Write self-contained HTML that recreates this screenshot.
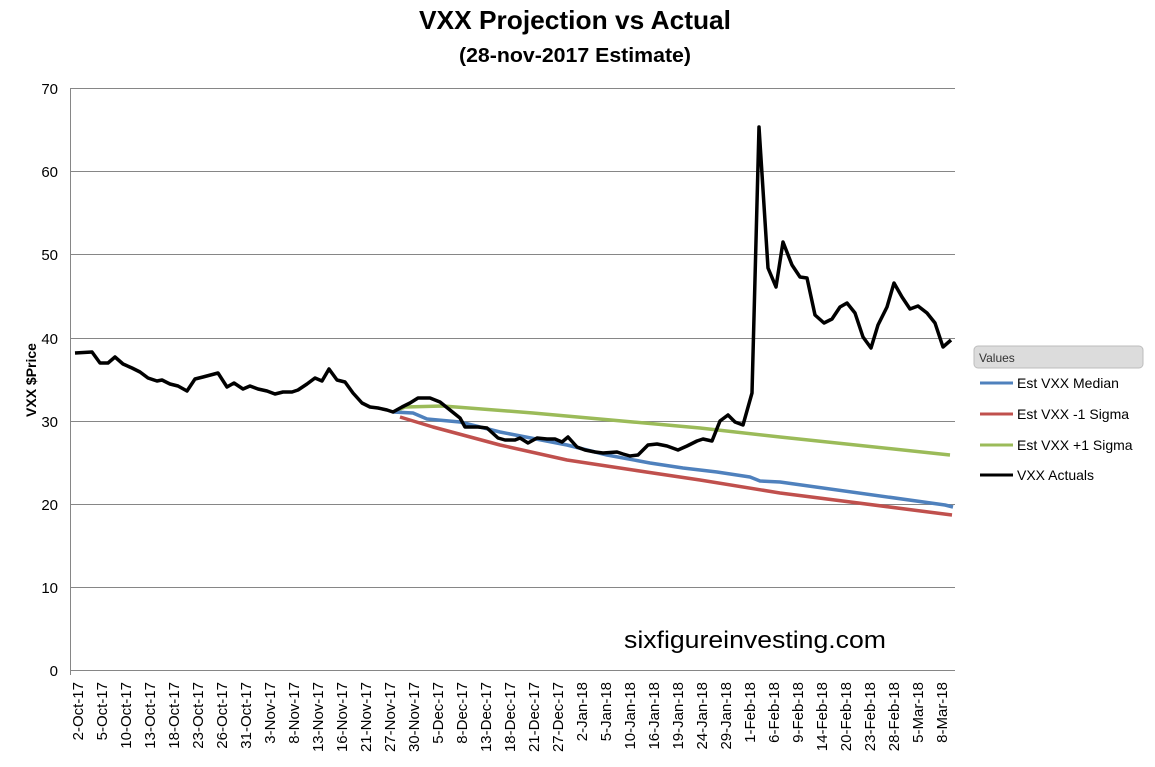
<!DOCTYPE html>
<html><head><meta charset="utf-8"><style>
body{margin:0;background:#fff;}
svg text{font-family:"Liberation Sans",sans-serif;}
</style></head><body>
<svg width="1155" height="762" xmlns="http://www.w3.org/2000/svg">
<rect width="1155" height="762" fill="#fff"/>
<text x="575" y="29" text-anchor="middle" font-size="26" font-weight="bold" fill="#000" textLength="312" lengthAdjust="spacingAndGlyphs">VXX Projection vs Actual</text>
<text x="575" y="62" text-anchor="middle" font-size="20" font-weight="bold" fill="#000" textLength="232" lengthAdjust="spacingAndGlyphs">(28-nov-2017 Estimate)</text>
<g stroke="#868686" stroke-width="1">
<line x1="70" y1="88.5" x2="955" y2="88.5"/>
<line x1="70" y1="171.5" x2="955" y2="171.5"/>
<line x1="70" y1="254.5" x2="955" y2="254.5"/>
<line x1="70" y1="338.5" x2="955" y2="338.5"/>
<line x1="70" y1="421.5" x2="955" y2="421.5"/>
<line x1="70" y1="504.5" x2="955" y2="504.5"/>
<line x1="70" y1="587.5" x2="955" y2="587.5"/>
<line x1="70" y1="670.5" x2="955" y2="670.5"/>
<line x1="70.5" y1="88" x2="70.5" y2="675"/>
</g>
<g font-size="15" text-anchor="end" fill="#000">
<text x="58" y="94">70</text><text x="58" y="177">60</text><text x="58" y="260">50</text><text x="58" y="344">40</text><text x="58" y="427">30</text><text x="58" y="510">20</text><text x="58" y="593">10</text><text x="58" y="676">0</text>
</g>
<text transform="translate(36,380) rotate(-90)" text-anchor="middle" font-size="14" font-weight="bold">VXX $Price</text>
<g font-size="15" text-anchor="end" fill="#000">
<text transform="translate(83,682) rotate(-90)">2-Oct-17</text>
<text transform="translate(107,682) rotate(-90)">5-Oct-17</text>
<text transform="translate(131,682) rotate(-90)">10-Oct-17</text>
<text transform="translate(155,682) rotate(-90)">13-Oct-17</text>
<text transform="translate(179,682) rotate(-90)">18-Oct-17</text>
<text transform="translate(203,682) rotate(-90)">23-Oct-17</text>
<text transform="translate(227,682) rotate(-90)">26-Oct-17</text>
<text transform="translate(251,682) rotate(-90)">31-Oct-17</text>
<text transform="translate(275,682) rotate(-90)">3-Nov-17</text>
<text transform="translate(299,682) rotate(-90)">8-Nov-17</text>
<text transform="translate(323,682) rotate(-90)">13-Nov-17</text>
<text transform="translate(347,682) rotate(-90)">16-Nov-17</text>
<text transform="translate(371,682) rotate(-90)">21-Nov-17</text>
<text transform="translate(395,682) rotate(-90)">27-Nov-17</text>
<text transform="translate(419,682) rotate(-90)">30-Nov-17</text>
<text transform="translate(443,682) rotate(-90)">5-Dec-17</text>
<text transform="translate(467,682) rotate(-90)">8-Dec-17</text>
<text transform="translate(491,682) rotate(-90)">13-Dec-17</text>
<text transform="translate(515,682) rotate(-90)">18-Dec-17</text>
<text transform="translate(539,682) rotate(-90)">21-Dec-17</text>
<text transform="translate(563,682) rotate(-90)">27-Dec-17</text>
<text transform="translate(587,682) rotate(-90)">2-Jan-18</text>
<text transform="translate(611,682) rotate(-90)">5-Jan-18</text>
<text transform="translate(635,682) rotate(-90)">10-Jan-18</text>
<text transform="translate(659,682) rotate(-90)">16-Jan-18</text>
<text transform="translate(683,682) rotate(-90)">19-Jan-18</text>
<text transform="translate(707,682) rotate(-90)">24-Jan-18</text>
<text transform="translate(731,682) rotate(-90)">29-Jan-18</text>
<text transform="translate(755,682) rotate(-90)">1-Feb-18</text>
<text transform="translate(779,682) rotate(-90)">6-Feb-18</text>
<text transform="translate(803,682) rotate(-90)">9-Feb-18</text>
<text transform="translate(827,682) rotate(-90)">14-Feb-18</text>
<text transform="translate(851,682) rotate(-90)">20-Feb-18</text>
<text transform="translate(875,682) rotate(-90)">23-Feb-18</text>
<text transform="translate(899,682) rotate(-90)">28-Feb-18</text>
<text transform="translate(923,682) rotate(-90)">5-Mar-18</text>
<text transform="translate(947,682) rotate(-90)">8-Mar-18</text>
</g>
<g fill="none" stroke-width="3.5" stroke-linejoin="round">
<polyline stroke="#9bbb59" points="393,412 405,407 443,406 533,413 633,422 700,428 780,437 950,455"/>
<polyline stroke="#c0504d" points="400,417 433,427 500,445 567,460 633,470 700,480 780,493 952,515"/>
<polyline stroke="#4f81bd" points="393,412 413,413 427,419 460,422 500,432 567,445 607,455 650,463 683,468 717,472 750,477 760,481 780,482 945,505 953,507"/>
<polyline stroke="#000" points="75,353 92,352 100,363 108,363 115,357 123,364 132,368 140,372 148,378 157,381 162,380 170,384 178,386 187,391 195,379 203,377 218,373 227,387 234,383 243,389 250,386 258,389 267,391 275,394 283,392 292,392 298,390 307,384 315,378 322,381 329,369 337,380 345,382 353,393 362,403 370,407 378,408 387,410 393,412 402,407 410,403 418,398 430,398 440,402 450,410 460,418 465,427 478,427 487,428 498,438 505,440 515,440 520,438 528,443 537,438 547,439 555,439 562,442 568,437 577,447 585,450 595,452 603,453 617,452 623,454 630,456 638,455 648,445 657,444 667,446 678,450 687,446 697,441 703,439 712,441 720,421 728,415 735,422 743,425 752,393 759,127 768,268 776,287 783,242 792,265 800,277 807,278 815,315 824,323 832,319 840,307 847,303 855,313 863,337 871,348 878,325 887,307 894,283 902,297 910,309 918,306 927,313 935,323 943,347 951,340"/>
</g>
<text x="624" y="648" font-size="24" fill="#000" textLength="262" lengthAdjust="spacingAndGlyphs">sixfigureinvesting.com</text>
<rect x="974" y="346" width="169" height="22" rx="4" fill="#dcdcdc" stroke="#bdbdbd"/>
<text x="979" y="362" font-size="12" fill="#333">Values</text>
<g stroke-width="3">
<line x1="980" y1="383" x2="1013" y2="383" stroke="#4f81bd"/>
<line x1="980" y1="414" x2="1013" y2="414" stroke="#c0504d"/>
<line x1="980" y1="445" x2="1013" y2="445" stroke="#9bbb59"/>
<line x1="980" y1="475" x2="1013" y2="475" stroke="#000"/>
</g>
<g font-size="14" fill="#000">
<text x="1017" y="388">Est VXX Median</text>
<text x="1017" y="419">Est VXX -1 Sigma</text>
<text x="1017" y="450">Est VXX +1 Sigma</text>
<text x="1017" y="480">VXX Actuals</text>
</g>
</svg>
</body></html>
